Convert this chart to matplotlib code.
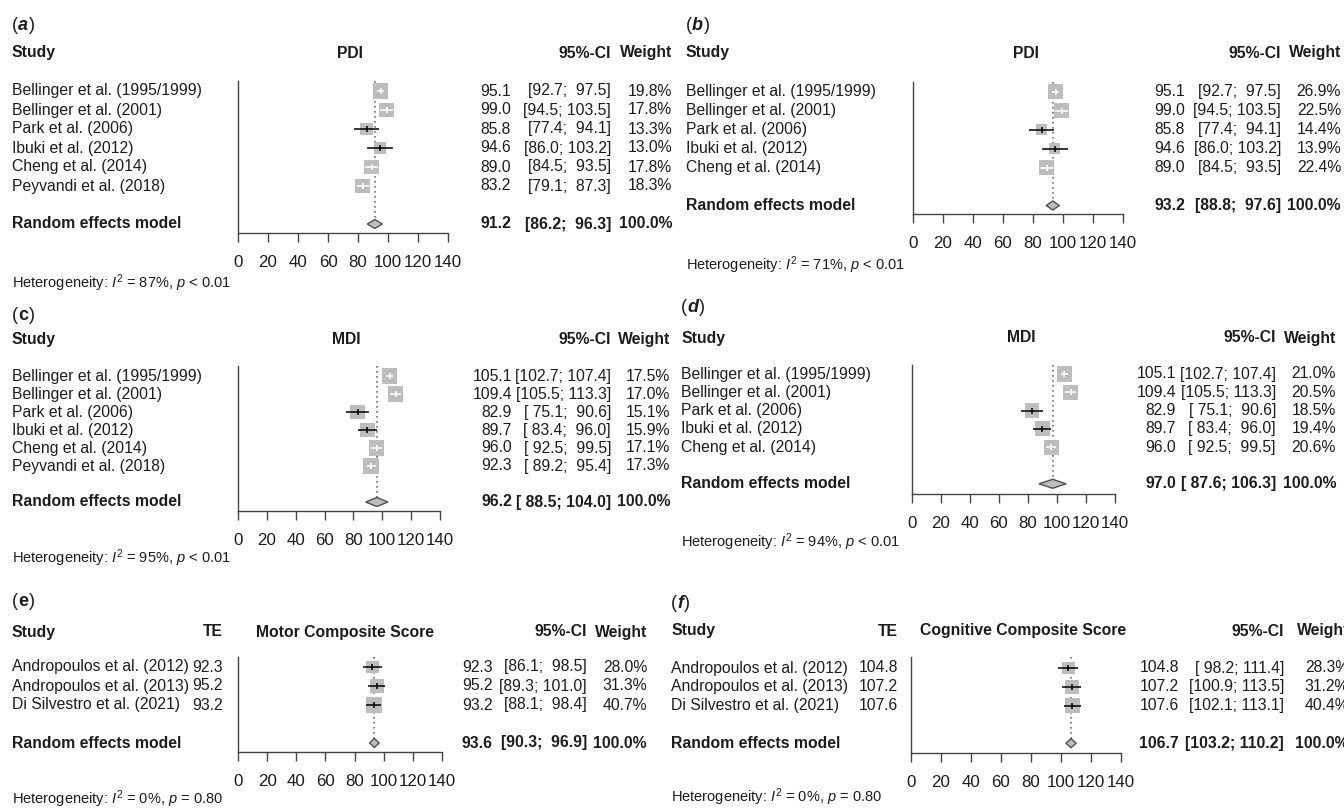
import numpy as np
import matplotlib
matplotlib.use('Agg')
import matplotlib.pyplot as plt
from matplotlib.transforms import blended_transform_factory

plt.rcParams['font.family'] = ['Liberation Sans', 'DejaVu Sans']
plt.rcParams['mathtext.fontset'] = 'custom'
plt.rcParams['mathtext.rm'] = 'Liberation Sans'
plt.rcParams['mathtext.it'] = 'Liberation Sans:italic'
plt.rcParams['mathtext.bf'] = 'Liberation Sans:bold'

W, H = 1344, 809
TXT = '#1c1c1c'
BOX = '#bdbdbd'
AXC = '#444444'

# ---- data ----
studies_pdi6 = ["Bellinger et al. (1995/1999)", "Bellinger et al. (2001)", "Park et al. (2006)",
                "Ibuki et al. (2012)", "Cheng et al. (2014)", "Peyvandi et al. (2018)"]
studies_pdi5 = studies_pdi6[:5]
studies_bayley = ["Andropoulos et al. (2012)", "Andropoulos et al. (2013)", "Di Silvestro et al. (2021)"]

te_a = [95.1, 99.0, 85.8, 94.6, 89.0, 83.2]
lo_a = [92.7, 94.5, 77.4, 86.0, 84.5, 79.1]
hi_a = [97.5, 103.5, 94.1, 103.2, 93.5, 87.3]
w_a = [19.8, 17.8, 13.3, 13.0, 17.8, 18.3]
re_a = (91.2, 86.2, 96.3)

te_b = [95.1, 99.0, 85.8, 94.6, 89.0]
lo_b = [92.7, 94.5, 77.4, 86.0, 84.5]
hi_b = [97.5, 103.5, 94.1, 103.2, 93.5]
w_b = [26.9, 22.5, 14.4, 13.9, 22.4]
re_b = (93.2, 88.8, 97.6)

te_c = [105.1, 109.4, 82.9, 89.7, 96.0, 92.3]
lo_c = [102.7, 105.5, 75.1, 83.4, 92.5, 89.2]
hi_c = [107.4, 113.3, 90.6, 96.0, 99.5, 95.4]
w_c = [17.5, 17.0, 15.1, 15.9, 17.1, 17.3]
re_c = (96.2, 88.5, 104.0)

te_d = [105.1, 109.4, 82.9, 89.7, 96.0]
lo_d = [102.7, 105.5, 75.1, 83.4, 92.5]
hi_d = [107.4, 113.3, 90.6, 96.0, 99.5]
w_d = [21.0, 20.5, 18.5, 19.4, 20.6]
re_d = (97.0, 87.6, 106.3)

te_e = [92.3, 95.2, 93.2]
lo_e = [86.1, 89.3, 88.1]
hi_e = [98.5, 101.0, 98.4]
w_e = [28.0, 31.3, 40.7]
re_e = (93.6, 90.3, 96.9)

te_f = [104.8, 107.2, 107.6]
lo_f = [98.2, 100.9, 102.1]
hi_f = [111.4, 113.5, 113.1]
w_f = [28.3, 31.2, 40.4]
re_f = (106.7, 103.2, 110.2)

het_a = ("87%", "<", "0.01")
het_b = ("71%", "<", "0.01")
het_c = ("95%", "<", "0.01")
het_d = ("94%", "<", "0.01")
het_e = ("0%", "=", "0.80")
het_f = ("0%", "=", "0.80")

ticks = list(range(0, 141, 20))

# ---- layout (pixels, y from top) ----
layouts = {
    'a': dict(lab=25, head=53, row0=91, sp=19, top=81, axis=233, het=283, sx=12,
              x0=238, x1=448, hc=350, te=511, ci=611, w=672),
    'b': dict(lab=25, head=53, row0=91.5, sp=19, top=82, axis=214, het=265, sx=686,
              x0=913, x1=1123, hc=1026, te=1185, ci=1281, w=1341),
    'c': dict(lab=315, head=339, row0=376, sp=18, top=366, axis=511, het=558, sx=12,
              x0=238, x1=440, hc=346, te=512, ci=611, w=670),
    'd': dict(lab=308, head=338, row0=374, sp=18.3, top=365, axis=494, het=542, sx=681,
              x0=912, x1=1115, hc=1021, te=1176, ci=1276, w=1336),
    'e': dict(lab=602, head=632, row0=667, sp=19, top=657, axis=752, het=799, sx=12,
              x0=238, x1=442, hc=345, te=493, ci=587, w=647, tecol=223),
    'f': dict(lab=603, head=631, row0=668, sp=18.8, top=657, axis=753, het=797, sx=671,
              x0=911, x1=1121, hc=1023, te=1179, ci=1284, w=1349, tecol=898),
}

FS = 11.3
fig = plt.figure(figsize=(W / 100, H / 100), dpi=100)
fig.patch.set_facecolor('white')
renderer = fig.canvas.get_renderer()


def fy(y):
    return 1 - y / H


def panel_label(L, letter, italic):
    x, y = L['sx'], L['lab']
    t = fig.text(x / W, fy(y), '(', fontsize=13, va='center', color=TXT)
    bb = t.get_window_extent(renderer)
    t2 = fig.text(bb.x1 / W, fy(y), letter, fontsize=13, va='center', color=TXT,
                  fontweight='bold', style='italic' if italic else 'normal')
    bb2 = t2.get_window_extent(renderer)
    fig.text(bb2.x1 / W + 0.5 / W, fy(y), ')', fontsize=13, va='center', color=TXT)


def forest(key, title, studies, te, lo, hi, w, re, het, italic_label):
    L = layouts[key]
    n = len(studies)
    re_row = n + 1
    sp = L['sp']
    top_r = (L['top'] - L['row0']) / sp
    bot_r = (L['axis'] - L['row0']) / sp
    ax = fig.add_axes([L['x0'] / W, fy(L['axis']), (L['x1'] - L['x0']) / W,
                       (L['axis'] - L['top']) / H])
    ax.set_xlim(0, 140)
    ax.set_ylim(bot_r, top_r)
    ax.patch.set_visible(False)
    for s in ['top', 'right']:
        ax.spines[s].set_visible(False)
    for s in ['left', 'bottom']:
        ax.spines[s].set_color(AXC)
        ax.spines[s].set_linewidth(1.0)
    ax.set_yticks([])
    ax.set_xticks(ticks)
    ax.tick_params(axis='x', length=6.5, width=1.0, color=AXC, labelsize=12.2,
                   pad=9, labelcolor=TXT)

    ppu = (L['x1'] - L['x0']) / 140.0
    rows = np.arange(n)
    wmax = max(w)
    side = [15.5 * np.sqrt(v / wmax) for v in w]
    ax.scatter(te, rows, marker='s', s=[(sd * 0.72) ** 2 for sd in side],
               color=BOX, edgecolors='none', zorder=2, clip_on=False)
    for r in range(n):
        # CI line drawn white when it stays inside the box
        c = 'black' if (hi[r] - lo[r]) * ppu >= side[r] * 0.96 else 'white'
        ax.hlines(r, lo[r], hi[r], colors=c, lw=1.1, zorder=3)
        ax.scatter([te[r]], [r], marker='|', s=14, color=c, linewidths=1.1, zorder=4)

    est, rlo, rhi = re
    dh = 4.5 / sp
    ax.vlines(est, top_r, re_row - dh, colors='#707070', linestyles=(0, (1, 2)), lw=1.2, zorder=1)
    ax.fill([rlo, est, rhi, est], [re_row, re_row - dh, re_row, re_row + dh],
            facecolor=BOX, edgecolor='#505050', lw=1.0, zorder=3)

    tr = blended_transform_factory(fig.transFigure, ax.transData)

    # headers
    hy = fy(L['head'])
    fig.text(L['sx'] / W, hy, 'Study', fontsize=FS, fontweight='bold', va='center', color=TXT)
    fig.text(L['hc'] / W, hy, title, fontsize=FS, fontweight='bold', va='center', ha='center', color=TXT)
    fig.text(L['ci'] / W, hy, '95%-CI', fontsize=FS, fontweight='bold', va='center', ha='right', color=TXT)
    fig.text(L['w'] / W, hy, 'Weight', fontsize=FS, fontweight='bold', va='center', ha='right', color=TXT)
    if 'tecol' in L:
        fig.text(L['tecol'] / W, hy, 'TE', fontsize=FS, fontweight='bold', va='center', ha='right', color=TXT)

    # CI strings padded to a common width, like R's format()
    lo_s = ['%.1f' % v for v in list(lo) + [rlo]]
    hi_s = ['%.1f' % v for v in list(hi) + [rhi]]
    lw_ = max(len(s) for s in lo_s)
    hw_ = max(len(s) for s in hi_s)
    ci_s = ['[%s; %s]' % (a.rjust(lw_), b.rjust(hw_)) for a, b in zip(lo_s, hi_s)]

    def row_text(y, name, t, ci, wt, bold):
        kw = dict(fontsize=FS, va='center', color=TXT, transform=tr, clip_on=False,
                  fontweight='bold' if bold else 'normal')
        ax.text(L['sx'] / W, y, name, **kw)
        if 'tecol' in L and not bold:
            ax.text(L['tecol'] / W, y, '%.1f' % t, ha='right', **kw)
        ax.text(L['te'] / W, y, '%.1f' % t, ha='right', **kw)
        ax.text(L['ci'] / W, y, ci, ha='right', **kw)
        ax.text(L['w'] / W, y, '%.1f%%' % wt, ha='right', **kw)

    for r in range(n):
        row_text(r, studies[r], te[r], ci_s[r], w[r], False)
    row_text(re_row, 'Random effects model', est, ci_s[-1], 100.0, True)

    i2, op, pv = het
    fig.text(L['sx'] / W, fy(L['het']),
             r'Heterogeneity: $I^2$ = %s, $p$ %s %s' % (i2, op, pv),
             fontsize=10.5, va='center', color=TXT)
    panel_label(L, key, italic_label)
    return ax


forest('a', 'PDI', studies_pdi6, te_a, lo_a, hi_a, w_a, re_a, het_a, True)
forest('b', 'PDI', studies_pdi5, te_b, lo_b, hi_b, w_b, re_b, het_b, True)
forest('c', 'MDI', studies_pdi6, te_c, lo_c, hi_c, w_c, re_c, het_c, False)
forest('d', 'MDI', studies_pdi5, te_d, lo_d, hi_d, w_d, re_d, het_d, True)
forest('e', 'Motor Composite Score', studies_bayley, te_e, lo_e, hi_e, w_e, re_e, het_e, False)
forest('f', 'Cognitive Composite Score', studies_bayley, te_f, lo_f, hi_f, w_f, re_f, het_f, True)

fig.savefig('out.png', dpi=100)
